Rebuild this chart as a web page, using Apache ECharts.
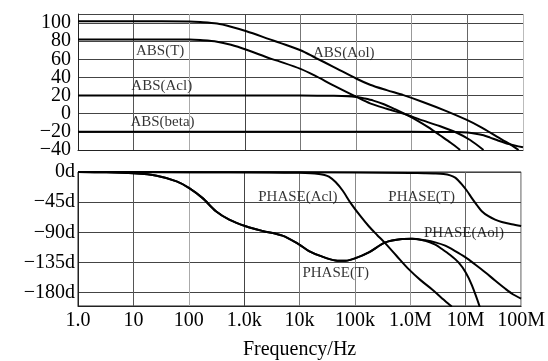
<!DOCTYPE html>
<html>
<head>
<meta charset="utf-8">
<script src="https://cdn.jsdelivr.net/npm/echarts@6/dist/echarts.min.js"></script>
<style>
  html, body { margin: 0; padding: 0; background: #fff; }
  #bode { width: 548px; height: 361px; }
</style>
</head>
<body>
<div id="bode"></div>
<script>
// frequency axis (Hz), one label per decade
const freqTickLabels = ['1.0', '10', '100', '1.0k', '10k', '100k', '1.0M', '10M', '100M'];
const phaseTicks = [-180, -135, -90, -45, 0];

// magnitude curves (dB)
const aolFreq = [1, 10, 100, 158, 316, 562, 1070, 2820, 4270, 1e4, 18200, 39800, 102000, 178000, 355000, 708000, 1.58e6, 3.98e6, 9.77e6, 1.78e7, 3.39e7, 5.62e7, 8.32e7];
const aolDb   = [102, 102, 101.8, 101.2, 99.5, 96, 91, 82, 78.2, 70, 62, 51.5, 38.6, 32, 26, 20.5, 13, 3.5, -6.8, -15, -25.2, -33, -40];

const tFreq = [1, 10, 100, 158, 316, 562, 1070, 2820, 4270, 1e4, 18200, 39800, 102000, 178000, 355000, 813000, 1.41e6, 3.16e6, 6.46e6, 1.12e7, 1.95e7];
const tDb   = [82, 82, 81.8, 81.2, 79.5, 76, 70.5, 61, 57.5, 49.5, 42, 31, 18.5, 11.5, 5.5, -1.2, -6.5, -13.5, -21, -29, -40];

const aclFreq = [1, 1e4, 39800, 70800, 1e5, 141000, 204000, 316000, 501000, 813000, 1.26e6, 2e6, 3.16e6, 5.01e6, 7.41e6];
const aclDb   = [20, 20, 19.8, 19.4, 18.5, 16.8, 14.5, 10.5, 5, -1.2, -7.5, -15, -23.5, -32, -40];

const betaFreq = [1, 1e6, 6.31e6, 1e7, 1.41e7, 1.95e7, 2.57e7, 3.39e7, 5.62e7, 1e8];
const betaDb   = [-20, -20, -20.2, -20.8, -22, -23.8, -26.3, -29, -33.5, -37];

// phase curves (degrees)
const phAolFreq = [1, 3.16, 10, 26.3, 60.3, 102, 178, 309, 537, 1070, 2140, 4900, 9770, 14800, 25100, 44700, 67600, 1e5, 178000, 355000, 708000, 1.07e6, 1.86e6, 2.82e6, 4.27e6, 6.46e6, 9.77e6, 1.48e7, 2.24e7, 3.39e7, 5.13e7, 7.08e7, 1e8];
const phAolDeg  = [0, -0.5, -2, -5.5, -14, -24, -39, -58.5, -71, -81, -88, -95, -108, -118, -126, -132, -132.5, -129, -120, -105, -100, -99.5, -102, -105, -110, -118, -127, -138, -149.5, -162, -174, -182.5, -189];

const phTFreq = [1, 3.16, 10, 26.3, 60.3, 102, 178, 309, 537, 1070, 2140, 4900, 9770, 14800, 25100, 44700, 67600, 1e5, 178000, 355000, 708000, 1.07e6, 1.86e6, 2.82e6, 3.72e6, 5.25e6, 7.41e6, 1e7, 1.29e7, 1.82e7];
const phTDeg  = [0, -0.5, -2, -5.5, -14, -24, -39, -58.5, -71, -81, -88, -95, -108, -118, -126, -132, -132.5, -129, -120, -105, -100, -99.5, -102.5, -108.5, -115, -124, -135, -150, -169, -203];

const phAclFreq = [1, 100, 2820, 10000, 15800, 22400, 28200, 33900, 44700, 60300, 83200, 126000, 178000, 251000, 331000, 562000, 933000, 1.51e6, 2.45e6, 3.55e6, 5.25e6, 5.62e6];
const phAclDeg  = [0, -0.3, -0.8, -1.2, -1.8, -3, -4.5, -7, -15, -28, -46, -66, -81, -94, -104, -125, -145, -161, -175, -187, -199, -201];

const phBetaFreq = [1, 1e4, 1e6, 1.78e6, 2.82e6, 3.98e6, 5.25e6, 6.46e6, 7.41e6, 8.51e6, 1.05e7, 1.29e7, 1.58e7, 1.95e7, 2.57e7, 3.39e7, 4.47e7, 6.76e7, 1e8];
const phBetaDeg  = [0, -0.5, -1.5, -1.8, -2.2, -3, -5, -8.5, -13, -18.5, -28, -39, -49, -58.5, -66, -71, -74.5, -78, -80.5];

// curve captions, placed in data coordinates
const magNotes = [
  { name: 'ABS(T)', value: [30, 69] },
  { name: 'ABS(Aol)', value: [60000, 66.5] },
  { name: 'ABS(Acl)', value: [32, 31] },
  { name: 'ABS(beta)', value: [33, -9] }
];
const phaseNotes = [
  { name: 'PHASE(Acl)', value: [9300, -37] },
  { name: 'PHASE(T)', value: [1.6e6, -38] },
  { name: 'PHASE(Aol)', value: [9.3e6, -91.5] },
  { name: 'PHASE(T)', value: [45000, -151] }
];

const zip = (xs, ys) => xs.map((x, i) => [x, ys[i]]);
const minus = v => (v < 0 ? '\u2212' + (-v) : '' + v);
const serif = "'Liberation Serif', 'Times New Roman', serif";
const vGridColors = ['#222', '#555', '#aaa', '#444', '#777', '#888', '#999', '#666', '#bbb'];

let chart = echarts.init(document.getElementById('bode'));

function freqAxis(idx, showLabels) {
  return {
    type: 'log',
    logBase: 10,
    gridIndex: idx,
    min: 1,
    max: 1e8,
    axisLine: { show: true, onZero: false, lineStyle: { color: '#222', width: 1 } },
    axisTick: { show: false },
    splitLine: { show: true, lineStyle: { color: vGridColors, width: 1 } },
    axisLabel: {
      show: showLabels,
      interval: 0,
      margin: 5,
      color: '#000',
      fontFamily: serif,
      fontSize: 20,
      formatter: v => freqTickLabels[Math.round(Math.log10(v))]
    },
    name: showLabels ? 'Frequency/Hz' : '',
    nameLocation: 'middle',
    nameGap: 34,
    nameTextStyle: { color: '#000', fontFamily: serif, fontSize: 20 }
  };
}

// magnitude axis; "main" carries the grid and most labels, the other only the bottom label
function magAxis(main) {
  return {
    type: 'value',
    gridIndex: 0,
    min: -40,
    max: 110,
    interval: 20,
    axisLine: { show: main, lineStyle: { color: '#222' } },
    axisTick: { show: false },
    splitLine: { show: main, lineStyle: { color: '#444', width: 1 } },
    axisLabel: {
      margin: 7,
      color: '#000',
      fontFamily: serif,
      fontSize: 20,
      showMinLabel: !main,
      showMaxLabel: false,
      formatter: main
        ? (v => (v > 100 || v === -40 ? '' : minus(v)))
        : (v => (v === -40 ? minus(v) : ''))
    }
  };
}

function curve(name, xi, xs, ys) {
  return {
    name: name,
    type: 'line',
    xAxisIndex: xi,
    yAxisIndex: xi,
    data: zip(xs, ys),
    showSymbol: false,
    smooth: 0.3,
    lineStyle: { color: '#000', width: 2 },
    z: 3
  };
}

function notes(xi, items) {
  return {
    type: 'scatter',
    xAxisIndex: xi,
    yAxisIndex: xi,
    data: items,
    symbolSize: 1,
    itemStyle: { color: 'rgba(0,0,0,0)' },
    label: {
      show: true,
      position: 'inside',
      formatter: '{b}',
      color: '#000',
      fontFamily: serif,
      fontSize: 15
    },
    z: 5
  };
}

let option = {
  animation: false,
  backgroundColor: '#fff',
  grid: [
    { left: 78, right: 25, top: 14, height: 136 },
    { left: 78, right: 25, top: 172, height: 135, show: true, borderColor: '#222', borderWidth: 1 }
  ],
  xAxis: [freqAxis(0, false), freqAxis(1, true)],
  yAxis: [
    magAxis(true),
    {
      type: 'value',
      gridIndex: 1,
      min: -200,
      max: 0,
      axisLine: { show: true, lineStyle: { color: '#222' } },
      axisTick: { show: false, customValues: phaseTicks },
      splitLine: { lineStyle: { color: '#444', width: 1 } },
      axisLabel: {
        customValues: phaseTicks,
        margin: 3,
        color: '#000',
        fontFamily: serif,
        fontSize: 20,
        formatter: v => minus(v) + 'd'
      }
    },
    Object.assign(magAxis(false), { position: 'left' })
  ],
  series: [
    curve('ABS(Aol)', 0, aolFreq, aolDb),
    curve('ABS(T)', 0, tFreq, tDb),
    curve('ABS(Acl)', 0, aclFreq, aclDb),
    curve('ABS(beta)', 0, betaFreq, betaDb),
    curve('PHASE(Aol)', 1, phAolFreq, phAolDeg),
    curve('PHASE(T)', 1, phTFreq, phTDeg),
    curve('PHASE(Acl)', 1, phAclFreq, phAclDeg),
    curve('PHASE(beta)', 1, phBetaFreq, phBetaDeg),
    notes(0, magNotes),
    notes(1, phaseNotes)
  ]
};
chart.setOption(option);
</script>
</body>
</html>
